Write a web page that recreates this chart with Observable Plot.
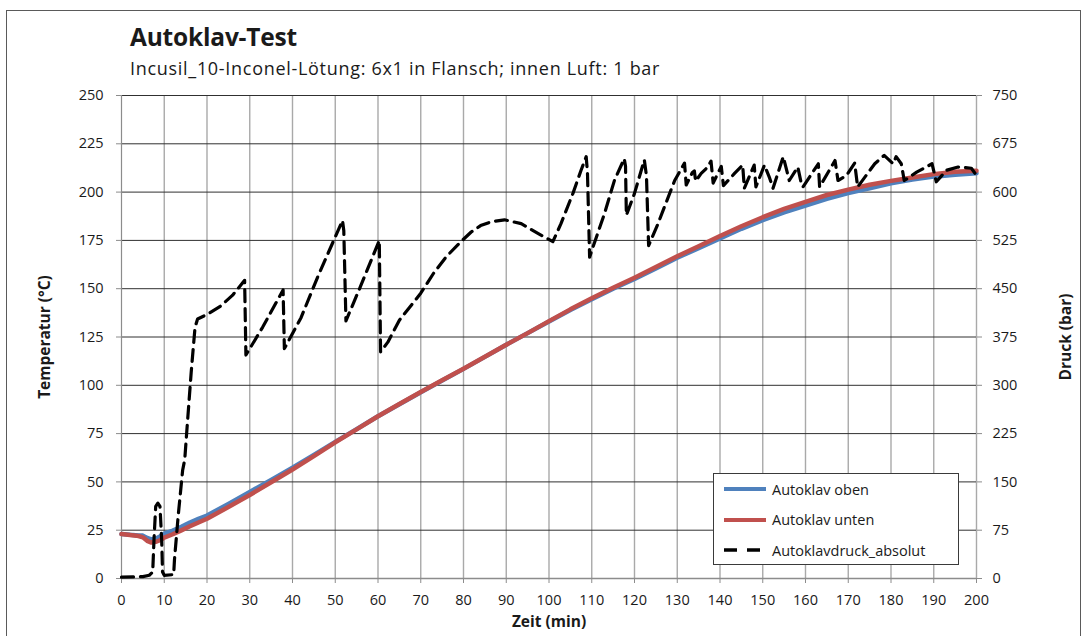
<!DOCTYPE html>
<html>
<head>
<meta charset="utf-8">
<script src="https://cdn.jsdelivr.net/npm/d3@7"></script>
<script src="https://cdn.jsdelivr.net/npm/@observablehq/plot@0.6"></script>
<style>
  html, body { margin: 0; padding: 0; background: #fff; }
  body { width: 1085px; height: 636px; position: relative; overflow: hidden; font-family: "Open Sans", sans-serif; color: #1a1a1a; }
  #frame { position: absolute; left: 6px; top: 10px; width: 1073px; height: 660px; border: 1px solid #5a5a5a; }
  #title { position: absolute; left: 130px; top: 20px; font-size: 24.5px; font-weight: bold; letter-spacing: -0.2px; }
  #subtitle { position: absolute; left: 130px; top: 56px; font-size: 18px; letter-spacing: 0.7px; }
  #chart { position: absolute; left: 0; top: 0; }
  #legend { position: absolute; left: 713px; top: 473px; width: 244px; height: 90px; border: 1px solid #3a3a3a; background: #fff; font-size: 14.5px; }
  #legend .row { position: absolute; left: 10px; height: 20px; display: flex; align-items: center; }
  #legend svg { margin-right: 4px; }
</style>
</head>
<body>
<div id="frame"></div>
<div id="chart"></div>
<div id="title">Autoklav-Test</div>
<div id="subtitle">Incusil_10-Inconel-Lötung: 6x1 in Flansch; innen Luft: 1 bar</div>
<div id="legend"></div>
<script>
// Temperature readings (°C) over time (min)
const tempTime = [0, 2, 4, 5, 6, 7, 8, 9, 10, 12, 14, 16, 18, 20, 25, 30, 35, 40, 45, 50, 55, 60, 65, 70, 75, 80, 85, 90, 95, 100, 105, 110, 115, 120, 125, 130, 135, 140, 145, 150, 155, 160, 165, 170, 175, 180, 185, 190, 195, 200];
const tempOben = [23, 22.6, 22.3, 22.2, 21, 20.3, 20.6, 21.8, 23.2, 24.8, 26.8, 29, 30.9, 32.6, 38.6, 44.8, 51, 57.3, 64, 70.7, 77.3, 84, 90.2, 96.4, 102.5, 108.5, 114.7, 121, 127, 133, 139, 144.5, 150, 155, 160.5, 166, 171, 176, 181, 185.5, 189.5, 193, 196.5, 199.5, 202, 204.5, 206.5, 208, 209, 209.8];
const tempUnten = [23, 22.5, 22, 21.3, 19.5, 18.6, 19, 19.8, 21.2, 22.9, 24.9, 27, 29, 30.9, 37, 43.2, 49.8, 56.4, 63.3, 70.5, 77.2, 84, 90.3, 96.5, 102.6, 108.6, 114.8, 121, 127, 133.2, 139.3, 145, 150.5, 155.7, 161.2, 166.8, 172, 177.3, 182.3, 187, 191.3, 195, 198.5, 201.3, 203.8, 205.8, 207.6, 209.3, 210.5, 211];

// Absolute autoclave pressure (bar) over time (min)
const pressTime = [0, 5, 6.5, 7.3, 7.6, 8.0, 8.5, 9.0, 9.4, 9.6, 10, 12.2, 12.4, 13.3, 14.3, 14.8, 15.4, 16.3, 17.2, 17.8, 20, 23, 26, 28.8, 29.1, 33, 37.8, 38.1, 42, 46, 51.7, 52.0, 52.5, 56, 60.3, 60.6, 62.3, 65, 70, 73, 76, 79.4, 81.8, 84, 86.5, 89.6, 93.5, 97.4, 100.9, 102.8, 105.6, 107.5, 108.7, 109.0, 109.5, 110.3, 113, 115.3, 117.6, 117.9, 118.1, 120, 122.3, 122.8, 123.3, 125.5, 127, 129.4, 131.7, 132.1, 133.5, 134.0, 134.3, 135.6, 137.0, 137.9, 138.4, 140.3, 140.8, 143.4, 145.3, 145.7, 148.0, 148.4, 150.4, 151.6, 152.4, 154.8, 156.2, 158.2, 159.0, 159.4, 163.0, 163.3, 166.9, 167.6, 169.6, 171.5, 172.2, 176.2, 178.4, 180.5, 181.2, 182.4, 183.1, 186, 189.6, 190.6, 193, 195.7, 198.8, 200];
const pressBar = [2, 3, 5, 10, 60, 112, 117, 112, 60, 10, 5, 6, 30, 100, 168, 185, 240, 320, 390, 403, 410, 422, 440, 463, 347, 390, 448, 357, 405, 470, 556, 540, 400, 455, 525, 352, 367, 401, 443, 474, 500, 523, 538, 548, 554, 557, 551, 536, 523, 551, 598, 634, 655, 630, 499, 515, 567, 618, 652, 640, 564, 598, 650, 625, 517, 551, 577, 618, 645, 611, 630, 633, 617, 629, 638, 648, 614, 640, 610, 629, 642, 606, 642, 608, 642, 622, 606, 655, 618, 639, 614, 608, 644, 608, 649, 618, 626, 645, 608, 644, 657, 644, 655, 644, 618, 631, 644, 616, 634, 639, 637, 626];

// Axis ticks
const xTicks = d3.range(0, 201, 10);
const yTicks = d3.range(0, 251, 25);
const pressureFactor = 3; // right axis: 0–750 bar on the 0–250 °C scale

const series = [
  {name: "Autoklav oben", color: "#4F81BD"},
  {name: "Autoklav unten", color: "#C0504D"},
  {name: "Autoklavdruck_absolut", color: "#000000"}
];

const oben = tempTime.map((t, i) => ({t, v: tempOben[i]}));
const unten = tempTime.map((t, i) => ({t, v: tempUnten[i]}));
const druck = pressTime.map((t, i) => ({t, p: pressBar[i]}));

const chart = Plot.plot({
  width: 1085,
  height: 636,
  marginLeft: 121,
  marginRight: 109,
  marginTop: 95,
  marginBottom: 58,
  x: {domain: [0, 200]},
  y: {domain: [0, 250]},
  style: {fontFamily: "'Open Sans', sans-serif", fontSize: "14.5px", color: "#1a1a1a", background: "transparent", overflow: "visible"},
  marks: [
    Plot.ruleX(xTicks.filter(d => d > 0), {stroke: "#a9a9a9", strokeWidth: 1.4}),
    Plot.ruleY(yTicks.filter(d => d > 0), {stroke: "#303030", strokeWidth: 1}),
    Plot.ruleX([0], {stroke: "#8c8c8c", strokeWidth: 1.2}),
    Plot.ruleY([0], {stroke: "#8c8c8c", strokeWidth: 1.4}),
    Plot.axisX({ticks: xTicks, tickSize: 5, tickPadding: 11, label: null, stroke: "#8c8c8c", fill: "#1a1a1a"}),
    Plot.axisY({ticks: yTicks, tickSize: 5, tickPadding: 13, label: null, stroke: "#8c8c8c", fill: "#1a1a1a"}),
    Plot.axisY({anchor: "right", ticks: yTicks, tickFormat: d => d * pressureFactor, tickSize: 5, tickPadding: 11, label: null, stroke: "#8c8c8c", fill: "#1a1a1a"}),
    Plot.line(oben, {x: "t", y: "v", stroke: series[0].color, strokeWidth: 4.5}),
    Plot.line(unten, {x: "t", y: "v", stroke: series[1].color, strokeWidth: 4.5}),
    Plot.line(druck, {x: "t", y: d => d.p / pressureFactor, stroke: series[2].color, strokeWidth: 3.2, strokeDasharray: "12,7"}),
    Plot.text(["Zeit (min)"], {frameAnchor: "bottom", dy: 48, fontWeight: "bold", fontSize: 15.5, fill: "#1a1a1a"}),
    Plot.text(["Temperatur (°C)"], {frameAnchor: "left", textAnchor: "middle", dx: -76, rotate: -90, fontWeight: "bold", fontSize: 15.5, fill: "#1a1a1a"}),
    Plot.text(["Druck (bar)"], {frameAnchor: "right", textAnchor: "middle", dx: 90, rotate: -90, fontWeight: "bold", fontSize: 15.5, fill: "#1a1a1a"})
  ]
});
document.getElementById("chart").appendChild(chart);

// Legend
const legend = document.getElementById("legend");
series.forEach((s, i) => {
  const row = document.createElement("div");
  row.className = "row";
  row.style.top = (5 + i * 30.5) + "px";
  const dash = i === 2 ? ' stroke-dasharray="13,10"' : "";
  const w = i === 2 ? 3.5 : 4;
  row.innerHTML = `<svg width="44" height="10"><line x1="0" y1="5" x2="42" y2="5" stroke="${s.color}" stroke-width="${w}"${dash}/></svg><span>${s.name}</span>`;
  legend.appendChild(row);
});
</script>
</body>
</html>
